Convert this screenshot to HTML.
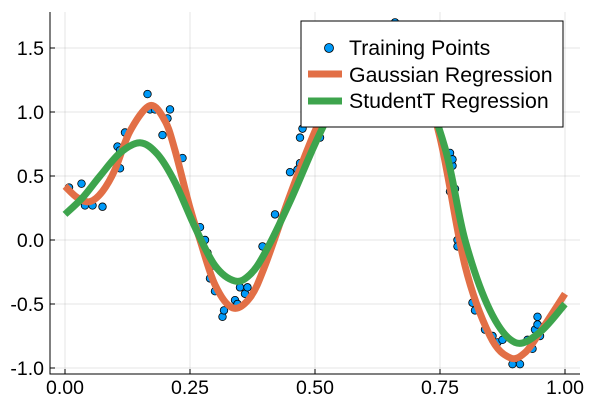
<!DOCTYPE html>
<html><head><meta charset="utf-8"><style>
body{margin:0;background:#fff}
svg{font-family:"Liberation Sans",sans-serif}
</style></head><body>
<svg id="chart" width="600" height="400" viewBox="0 0 600 400">
<g id="grid"></g>
<g id="axes"></g>
<g id="series"></g>
<g id="legend"></g>
</svg>
<script>
const xTicks=[0,0.25,0.5,0.75,1];
const xTickLabels=["0.00","0.25","0.50","0.75","1.00"];
const yTicks=[-1,-0.5,0,0.5,1,1.5];
const yTickLabels=["-1.0","-0.5","0.0","0.5","1.0","1.5"];
const pointsX=[0.008,0.033,0.04,0.055,0.075,0.105,0.11,0.11,0.12,0.165,0.17,0.18,0.195,0.205,0.21,0.235,0.27,0.28,0.285,0.29,0.295,0.3,0.315,0.318,0.34,0.345,0.35,0.36,0.365,0.395,0.42,0.45,0.465,0.47,0.47,0.475,0.51,0.66,0.77,0.775,0.775,0.77,0.78,0.785,0.79,0.785,0.815,0.82,0.84,0.855,0.865,0.875,0.895,0.91,0.925,0.935,0.94,0.945,0.945,0.95];
const pointsY=[0.41,0.44,0.27,0.27,0.26,0.73,0.56,0.7,0.84,1.14,1.02,1.02,0.82,0.95,1.02,0.64,0.1,0.0,-0.1,-0.3,-0.2,-0.4,-0.6,-0.55,-0.47,-0.5,-0.37,-0.42,-0.37,-0.05,0.2,0.53,0.55,0.6,0.8,0.87,0.8,1.7,0.68,0.58,0.63,0.38,0.4,0.0,0.05,-0.05,-0.49,-0.55,-0.7,-0.75,-0.8,-0.78,-0.97,-0.97,-0.78,-0.85,-0.7,-0.66,-0.6,-0.75];
const gaussX=[0,0.025,0.05,0.075,0.1,0.13,0.17,0.2,0.22,0.25,0.27,0.3,0.335,0.37,0.4,0.45,0.5,0.55,0.6,0.65,0.7,0.75,0.8,0.85,0.89,0.92,0.95,1.0];
const gaussY=[0.42,0.33,0.3,0.38,0.55,0.85,1.05,0.93,0.7,0.25,0.0,-0.35,-0.53,-0.45,-0.2,0.35,0.85,1.25,1.5,1.58,1.42,0.8,-0.2,-0.75,-0.92,-0.88,-0.72,-0.42];
const studentX=[0,0.035,0.07,0.11,0.15,0.185,0.22,0.26,0.3,0.34,0.37,0.4,0.45,0.5,0.55,0.6,0.65,0.7,0.76,0.8,0.85,0.9,0.95,1.0];
const studentY=[0.2,0.33,0.5,0.68,0.76,0.67,0.45,0.1,-0.2,-0.32,-0.27,-0.1,0.3,0.75,1.15,1.45,1.55,1.35,0.72,0.0,-0.55,-0.8,-0.72,-0.5];
const NS="http://www.w3.org/2000/svg";
const X=v=>65+500*v, Y=v=>240-128*v;
function mk(tag,attrs,parent){const e=document.createElementNS(NS,tag);for(const k in attrs)e.setAttribute(k,attrs[k]);parent.appendChild(e);return e;}
const grid=document.getElementById('grid'),axes=document.getElementById('axes'),series=document.getElementById('series'),legend=document.getElementById('legend');
xTicks.forEach((t,i)=>{
 const l=mk('line',{x1:X(t),x2:X(t),y1:12,y2:374,stroke:'#000','stroke-opacity':0.1,'stroke-width':1},grid);
 
 
 const tk=mk('line',{x1:X(t),x2:X(t),y1:374,y2:369,stroke:'#000'},axes);
 
 
 const tx=mk('text',{x:X(t),y:394,'text-anchor':'middle','font-size':19.5,fill:'#000'},axes);tx.textContent=xTickLabels[i];
 
 
});
yTicks.forEach((t,i)=>{
 const l=mk('line',{x1:50,x2:580,y1:Y(t),y2:Y(t),stroke:'#000','stroke-opacity':0.1,'stroke-width':1},grid);
 
 
 const tk=mk('line',{x1:50,x2:55,y1:Y(t),y2:Y(t),stroke:'#000'},axes);
 
 
 const tx=mk('text',{x:44,y:Y(t)+7,'text-anchor':'end','font-size':19.5,fill:'#000'},axes);tx.textContent=yTickLabels[i];
 
 
});
const ax=mk('path',{d:'M50 12 V374 H580',fill:'none',stroke:'#000','stroke-width':1},axes);


function smooth(xs,ys){
 const p=xs.map((x,i)=>[X(x),Y(ys[i])]);let d=`M${p[0][0]} ${p[0][1]}`;
 for(let i=0;i<p.length-1;i++){const p0=p[i-1]||p[i],p1=p[i],p2=p[i+1],p3=p[i+2]||p2;
  d+=` C${p1[0]+(p2[0]-p0[0])/6} ${p1[1]+(p2[1]-p0[1])/6} ${p2[0]-(p3[0]-p1[0])/6} ${p2[1]-(p3[1]-p1[1])/6} ${p2[0]} ${p2[1]}`;}
 return d;}
pointsX.forEach((x,i)=>{
 const c=mk('circle',{cx:X(x),cy:Y(pointsY[i]),r:3.8,fill:'#009af9',stroke:'#000','stroke-width':0.8},series);
 
 
});
const g=mk('path',{d:smooth(gaussX,gaussY),fill:'none',stroke:'#e26f46','stroke-width':7},series);


const s=mk('path',{d:smooth(studentX,studentY),fill:'none',stroke:'#3da44d','stroke-width':7},series);


const box=mk('rect',{x:301,y:21,width:262,height:106,fill:'#fff',stroke:'#000','stroke-width':1},legend);


const lc=mk('circle',{cx:329,cy:48,r:4.5,fill:'#009af9',stroke:'#000','stroke-width':0.8},legend);


const l1=mk('line',{x1:308,x2:342,y1:74,y2:74,stroke:'#e26f46','stroke-width':7},legend);


const l2=mk('line',{x1:308,x2:342,y1:101,y2:101,stroke:'#3da44d','stroke-width':7},legend);


[["Training Points",55,'legend-entry-points'],["Gaussian Regression",82,'legend-entry-gaussian'],["StudentT Regression",108,'legend-entry-studentt']].forEach(([t,y,n])=>{
 const tx=mk('text',{x:349,y:y,'font-size':21.3,fill:'#000'},legend);tx.textContent=t;
 
 
});
</script>
</body></html>
